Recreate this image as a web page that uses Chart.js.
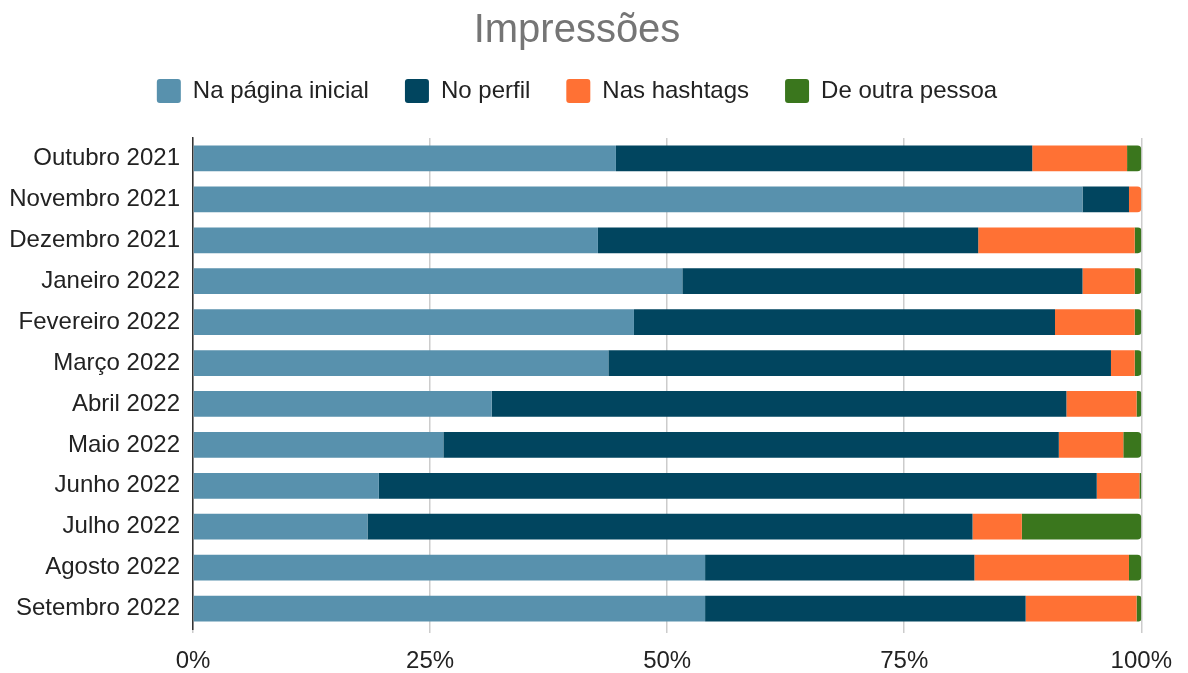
<!DOCTYPE html>
<html>
<head>
<meta charset="utf-8">
<script src="https://cdn.jsdelivr.net/npm/chart.js@4"></script>
<style>
  body { margin: 0; background: #fff; }
  #wrap { width: 1188px; height: 673px; }
</style>
</head>
<body>
<div id="wrap"><canvas id="myChart"></canvas></div>
<script>
// months on the y axis
const months = ['Outubro 2021', 'Novembro 2021', 'Dezembro 2021', 'Janeiro 2022', 'Fevereiro 2022', 'Março 2022',
    'Abril 2022', 'Maio 2022', 'Junho 2022', 'Julho 2022', 'Agosto 2022', 'Setembro 2022'];

// share of impressions per source, in %
const paginaInicial = [44.6, 93.8, 42.7, 51.6, 46.5, 43.8, 31.5, 26.4, 19.6, 18.4, 54.0, 54.0];
const noPerfil      = [43.9, 4.9, 40.1, 42.2, 44.4, 53.0, 60.6, 64.9, 75.7, 63.8, 28.4, 33.8];
const hashtags      = [10.0, 1.3, 16.5, 5.5, 8.4, 2.5, 7.4, 6.8, 4.5, 5.2, 16.3, 11.7];
const outraPessoa   = [1.5, 0, 0.7, 0.7, 0.7, 0.7, 0.5, 1.9, 0.2, 12.6, 1.3, 0.5];

const xTicks = [0, 25, 50, 75, 100];

const series = [paginaInicial, noPerfil, hashtags, outraPessoa];

// round only the end of each stack
function endRadius(ctx) {
    const i = ctx.dataIndex;
    const d = ctx.datasetIndex;
    for (let k = d + 1; k < series.length; k++) {
        if (series[k][i] > 0) return 0;
    }
    return { topRight: 4, bottomRight: 4, topLeft: 0, bottomLeft: 0 };
}

function makeSet(label, data, color) {
    return {
        label: label,
        data: data,
        backgroundColor: color,
        borderWidth: 0,
        borderSkipped: false,
        borderRadius: endRadius,
        barPercentage: 0.63,
        categoryPercentage: 1
    };
}

// extra room under the legend
const legendMargin = {
    id: 'legendMargin',
    beforeInit(chart) {
        const fit = chart.legend.fit;
        chart.legend.fit = function () {
            fit.bind(chart.legend)();
            this.height += 25;
        };
    }
};

Chart.defaults.font.family = '"Liberation Sans", Arial, sans-serif';
Chart.defaults.color = '#222';

const ctx = document.getElementById('myChart');

new Chart(ctx, {
    type: 'bar',
    data: {
        labels: months,
        datasets: [
            makeSet('Na página inicial', paginaInicial, '#5891ad'),
            makeSet('No perfil', noPerfil, '#01455f'),
            makeSet('Nas hashtags', hashtags, '#ff7134'),
            makeSet('De outra pessoa', outraPessoa, '#3a761d')
        ]
    },
    plugins: [legendMargin],
    options: {
        indexAxis: 'y',
        responsive: true,
        maintainAspectRatio: false,
        animation: false,
        layout: { autoPadding: false, padding: { left: 10, right: 44, top: 0, bottom: 0 } },
        plugins: {
            title: {
                display: true,
                text: 'Impressões',
                color: '#757575',
                font: { size: 40, weight: 'normal', lineHeight: 0.6 },
                padding: { top: 19, bottom: 0 }
            },
            legend: {
                labels: {
                    boxWidth: 24,
                    boxHeight: 24,
                    useBorderRadius: true,
                    borderRadius: 3,
                    padding: 36,
                    font: { size: 24 },
                    color: '#222'
                }
            },
            tooltip: { enabled: false }
        },
        scales: {
            x: {
                stacked: true,
                min: 0,
                max: 100,
                afterBuildTicks: (axis) => {
                    axis.ticks = xTicks.map(v => ({ value: v }));
                },
                afterFit: (axis) => { axis.height = 44; },
                ticks: {
                    callback: (v) => v + '%',
                    font: { size: 24, lineHeight: 1 },
                    color: '#222',
                    padding: 16
                },
                grid: { color: '#cccccc', lineWidth: 1.5, tickLength: 4 },
                border: { display: false }
            },
            y: {
                stacked: true,
                afterFit: (axis) => { axis.width = 183; },
                ticks: { font: { size: 24 }, color: '#222', padding: 13 },
                grid: { display: false, tickLength: 0 },
                border: { display: true, color: '#333', width: 1.5 }
            }
        }
    }
});
</script>
</body>
</html>
